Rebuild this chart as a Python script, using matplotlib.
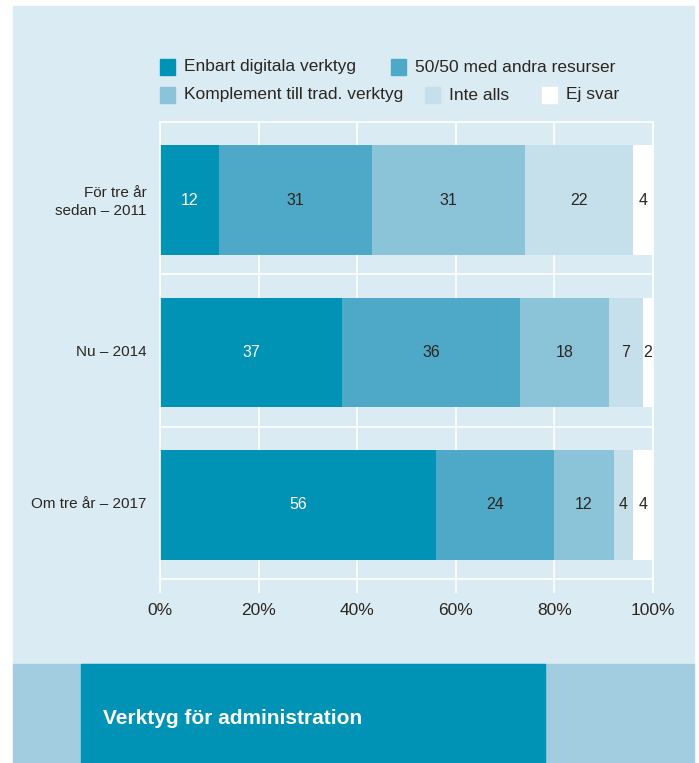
import matplotlib.pyplot as plt
from matplotlib.patches import Rectangle
import numpy as np

# data
years = ['För tre år\nsedan – 2011', 'Nu – 2014', 'Om tre år – 2017']
series = ['Enbart digitala verktyg', '50/50 med andra resurser',
          'Komplement till trad. verktyg', 'Inte alls', 'Ej svar']
enbart = [12, 37, 56]
halva = [31, 36, 24]
komplement = [31, 18, 12]
inte_alls = [22, 7, 4]
ej_svar = [4, 2, 4]
ticks = [0, 20, 40, 60, 80, 100]
tick_labels = ['0%', '20%', '40%', '60%', '80%', '100%']
title = 'Verktyg för administration'

colors = ['#0093b5', '#4ea8c7', '#8bc3d8', '#c5e0eb', '#ffffff']
label_colors = ['white', '#2b2620', '#2b2620', '#2b2620', '#2b2620']
panel = '#dbebf4'
band = '#a2cde0'
txt = '#2b2620'

plt.rcParams['font.family'] = ['Liberation Sans', 'DejaVu Sans']

W, H = 699, 763
fig = plt.figure(figsize=(W / 100, H / 100), dpi=100)

# background panel and bottom band
fig.add_artist(Rectangle((13 / W, 1 - 664 / H), 681 / W, 658 / H,
                         transform=fig.transFigure, color=panel, zorder=0))
fig.add_artist(Rectangle((13 / W, 0), 681 / W, 99 / H,
                         transform=fig.transFigure, color=band, zorder=0))
fig.add_artist(Rectangle((81 / W, 0), 464 / W, 99 / H,
                         transform=fig.transFigure, color=colors[0], zorder=0))
fig.text(103 / W, 1 - 718 / H, title, color='white', fontsize=15,
         fontweight='bold', va='center', ha='left',
         family=['Liberation Sans Narrow', 'Liberation Sans', 'DejaVu Sans'])

ax = fig.add_axes([160 / W, 1 - 579 / H, 493 / W, 457 / H])
ax.set_facecolor(panel)

values = [enbart, halva, komplement, inte_alls, ej_svar]
y = np.arange(len(years))
left = np.zeros(len(years))
for i, vals in enumerate(values):
    bars = ax.barh(y + 0.013, vals, left=left, height=0.72, color=colors[i],
                   label=series[i], zorder=2)
    ax.bar_label(bars, labels=[str(v) for v in vals], label_type='center',
                 color=label_colors[i], fontsize=11.5)
    left += np.array(vals)

ax.set_xlim(0, 100)
ax.set_ylim(2.5, -0.5)
ax.set_xticks(ticks)
ax.set_xticklabels(tick_labels)
ax.set_yticks(y)
ax.set_yticklabels(years, linespacing=1.35)
ax.set_axisbelow(True)
ax.xaxis.grid(True, color='white', lw=1.2)
for b in [0.5, 1.5]:
    ax.axhline(b, color='white', lw=1.2, zorder=1)
for s in ax.spines.values():
    s.set_color('white')
    s.set_linewidth(1.2)
ax.tick_params(axis='x', length=10, width=1.2, color='white', pad=7,
               labelsize=12.5, labelcolor=txt)
ax.tick_params(axis='y', length=0, pad=9.5, labelsize=11, labelcolor=txt)

# legend laid out in two rows like the original
leg_x = [160, 391, 160, 425, 542]
leg_y = [67, 67, 95, 95, 95]
for i, name in enumerate(series):
    fig.add_artist(Rectangle((leg_x[i] / W, 1 - (leg_y[i] + 7.5) / H),
                             15 / W, 15 / H, transform=fig.transFigure,
                             color=colors[i], zorder=3))
    fig.text((leg_x[i] + 24) / W, 1 - leg_y[i] / H, name, color=txt,
             fontsize=12.5, va='center', ha='left')

fig.savefig('out.png', dpi=100)
